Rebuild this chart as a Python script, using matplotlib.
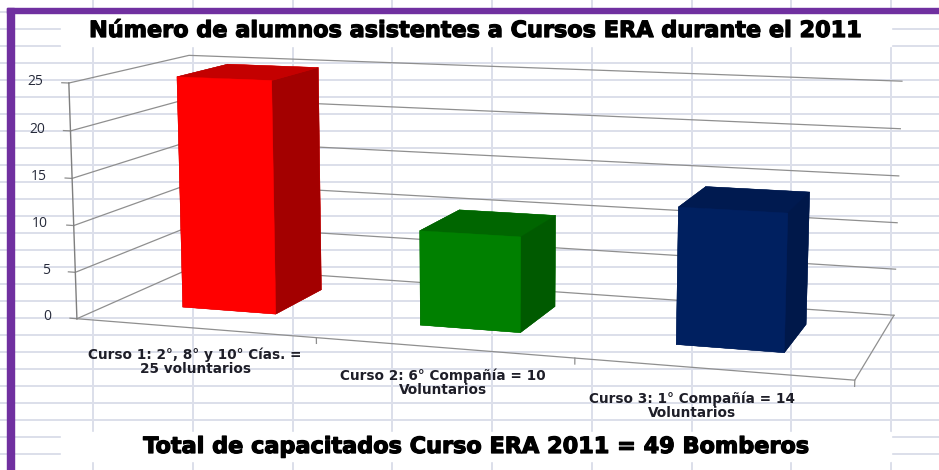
import numpy as np
import matplotlib
matplotlib.use('Agg')
import matplotlib.pyplot as plt
import matplotlib.patheffects as pe
from matplotlib.patches import Rectangle

# data
categories = ['Curso 1: 2°, 8° y 10° Cías. =\n25 voluntarios',
              'Curso 2: 6° Compañía = 10\nVoluntarios',
              'Curso 3: 1° Compañía = 14\nVoluntarios']
alumnos = [25, 10, 14]
z_ticks = [0, 5, 10, 15, 20, 25]
front_colors = ['#ff0000', '#008000', '#002060']
side_colors = ['#a30000', '#005a00', '#00184a']
top_colors = ['#c40000', '#006600', '#001a50']

titulo = 'Número de alumnos asistentes a Cursos ERA durante el 2011'
total = 'Total de capacitados Curso ERA 2011 = 49 Bomberos'

W, H = 939, 470
fig = plt.figure(figsize=(W / 100, H / 100), dpi=100)

# worksheet cells behind the chart
bg = fig.add_axes([0, 0, 1, 1])
bg.set_xlim(0, W)
bg.set_ylim(H, 0)
bg.axis('off')
for gx in np.arange(93.3, W, 99.7):
    bg.axvline(gx, color='#dcdfea', lw=1.4, zorder=0)
for gy in np.arange(12.3, H, 17.0):
    bg.axhline(gy, color='#dcdfea', lw=1.4, zorder=0)
bg.add_patch(Rectangle((61, 12), 830, 34, color='white', zorder=1))
bg.add_patch(Rectangle((61, 432), 830, 29, color='white', zorder=1))
bg.add_patch(Rectangle((7, 8), W, 5, color='#7030a0', zorder=2))
bg.add_patch(Rectangle((7, 8), 7, H, color='#7030a0', zorder=2))

# 3d column chart
ax = fig.add_axes([0.005, -0.453, 1.0, 1.998], projection='3d')
ax.set_facecolor('none')
ax.set_axis_off()
ax.set_proj_type('persp', focal_length=0.42)
ax.view_init(elev=10, azim=-72)
ax.set_box_aspect((3.27, 1.13, 1.0), zoom=0.888)

n = len(alumnos)
xs = np.arange(n)
x0, x1 = -0.5, n - 0.5
zmax = z_ticks[-1]

for i, v in enumerate(alumnos):
    # face order of bar3d: -z, +z, -y, +y, -x, +x
    faces = [top_colors[i], top_colors[i], front_colors[i],
             front_colors[i], side_colors[i], side_colors[i]]
    ax.bar3d(xs[i] - 0.2, 0.3, 0, 0.4, 0.45, v, color=faces,
             edgecolor=faces, linewidth=0.3, shade=False)

grid = dict(color='#8f8f8f', lw=0.9, zorder=0.5)
for z in z_ticks:
    ax.plot([x0, x0, x1], [0, 1, 1], [z, z, z], **grid)
    ax.plot([x0 - 0.03, x0], [0, 0], [z, z], **grid)
    ax.text(x0 - 0.11, 0, z, str(z), ha='right', va='center',
            fontsize=10, color='#262a3a', family='Open Sans')
ax.plot([x0, x1, x1], [0, 0, 1], [0, 0, 0], **grid)
ax.plot([x0, x0], [0, 0], [0, zmax], color='#7f7f7f', lw=1.0, zorder=0.5)
for k in range(1, n + 1):
    ax.plot([x0 + k, x0 + k], [0, 0], [0, -0.6], **grid)

label_dx = [0, 0, -0.07]
label_dz = [0, 0, -0.2]
for i, lab in enumerate(categories):
    ax.text(xs[i] + label_dx[i], 0, -3.6 + label_dz[i], lab,
            ha='center', va='center', fontsize=9.8, fontweight='bold',
            family='DejaVu Sans', color='#1e1e28', linespacing=1.0)

ax.set_xlim(x0, x1, view_margin=0)
ax.set_ylim(0, 1, view_margin=0)
ax.set_zlim(0, zmax, view_margin=0)

heavy = [pe.withStroke(linewidth=0.9, foreground='black')]
fig.text(475 / W, 1 - 31 / H, titulo, ha='center', va='center',
         fontsize=16.1, fontweight='bold', family='DejaVu Sans',
         color='black', path_effects=heavy)
fig.text(476 / W, 1 - 447 / H, total, ha='center', va='center',
         fontsize=16.1, fontweight='bold', family='DejaVu Sans',
         color='black', path_effects=heavy)

fig.savefig('out.png', dpi=100)
